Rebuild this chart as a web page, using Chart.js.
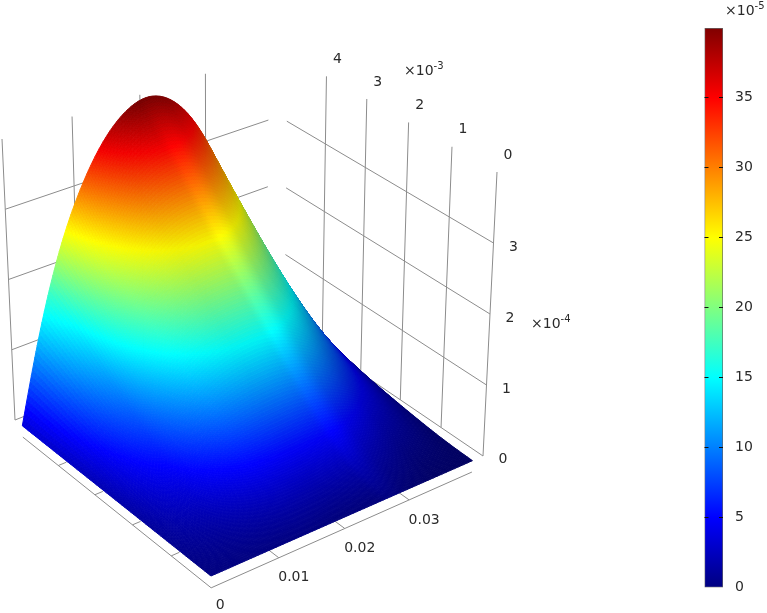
<!DOCTYPE html>
<html><head><meta charset="utf-8">
<style>html,body{margin:0;padding:0;background:#fff;overflow:hidden}
#wrap{position:relative;width:767px;height:613px}
canvas{position:absolute;top:0;filter:blur(0.45px)}</style>
<script src="https://cdn.jsdelivr.net/npm/chart.js@4"></script>
</head><body><div id="wrap"><canvas id="view" style="left:0"></canvas><canvas id="bar" style="left:690px"></canvas></div>
<script>
const xValues=[0,0.00333,0.00667,0.01,0.01333,0.01667,0.02,0.02333,0.02667,0.03,0.03333,0.03667,0.04];
const yValues=[0,0.000625,0.00125,0.001875,0.0025,0.003125,0.00375,0.004375,0.005];
// surface height, units of 1e-5, one row per y value
const zRow0=[0,0,0,0,0,0,0,0,0,0,0,0,0];
const zRow1=[0,0.7,1.2,1.6,1.8,1.9,2,1.9,1.8,1.5,1,0.7,0.1];
const zRow2=[0,2,3.5,4.7,5.4,5.8,6,5.8,5.3,4.4,3.1,1.9,0.5];
const zRow3=[0,3.7,6.6,8.7,10.1,10.9,11.2,10.8,9.9,8.2,5.8,3.4,1];
const zRow4=[0,5.5,9.9,13,15.1,16.3,16.8,16.3,14.8,12.3,8.7,4.9,1.6];
const zRow5=[0,7.3,13.2,17.4,20.2,21.8,22.4,21.7,19.7,16.4,11.6,6.5,2.4];
const zRow6=[0,9.3,16.8,22,25.6,27.6,28.4,27.5,25,20.7,14.7,8.1,3.4];
const zRow7=[0,11.3,20.3,26.7,31.2,33.8,34.7,33.6,30.5,25.1,17.8,9.7,4.6];
const zRow8=[0,13.1,23.6,31,36.4,39.6,40.8,39.4,35.6,29.2,20.7,11.2,6];
const zRows=[zRow0,zRow1,zRow2,zRow3,zRow4,zRow5,zRow6,zRow7,zRow8];
// lighting against distance from the crease that runs across the surface
const shadeD=[-1,-0.3,-0.15,-0.03,0,0.03,0.08,0.2,0.35,1];
const shadeF=[1,1,0.95,0.95,1,0.98,0.88,0.78,0.75,0.76];
const xTicks=[0,0.01,0.02,0.03];
const xTickLabels=['0','0.01','0.02','0.03'];
const yTicks=[0,0.001,0.002,0.003,0.004];
const yTickLabels=['0','1','2','3','4'];
const zTicks=[0,1e-4,2e-4,3e-4];
const zTickLabels=['0','1','2','3'];
const barTicks=[0,5,10,15,20,25,30,35];
const barMax=39.95;

// camera
const xBox=0.0417,yBox=0.00521,zBox=4e-4,zAxis=-1.6e-5,xEnd=0.04,yEnd=0.005;
const base=[[211,576],[483,456],[277,316],[15,420]];
const top_=[[207,280],[497,172],[279.5,50],[2,139]];
function homog(q){
  const [p0,p1,p2,p3]=q;
  const dx1=p1[0]-p2[0],dx2=p3[0]-p2[0],sx=p0[0]-p1[0]+p2[0]-p3[0];
  const dy1=p1[1]-p2[1],dy2=p3[1]-p2[1],sy=p0[1]-p1[1]+p2[1]-p3[1];
  const det=dx1*dy2-dx2*dy1;
  const g=(sx*dy2-dx2*sy)/det,h=(dx1*sy-sx*dy1)/det;
  const a=p1[0]-p0[0]+g*p1[0],b=p3[0]-p0[0]+h*p3[0],d=p1[1]-p0[1]+g*p1[1],e=p3[1]-p0[1]+h*p3[1];
  return (u,v)=>{const W=g*u+h*v+1;return [(a*u+b*v+p0[0])/W,(d*u+e*v+p0[1])/W];};
}
const Hb=homog(base),Ht=homog(top_);
function project(x,y,z){
  const u=x/xBox,v=y/yBox,w=z/zBox,b=Hb(u,v),t=Ht(u,v);
  return {x:b[0]+(t[0]-b[0])*w,y:b[1]+(t[1]-b[1])*w};
}
// uniform cubic B-spline tessellation of the table for drawing
function bs(p0,p1,p2,p3,t){const m=1-t;return (m*m*m*p0+(3*t*t*t-6*t*t+4)*p1+(-3*t*t*t+3*t*t+3*t+1)*p2+t*t*t*p3)/6;}
function at(a,k){const n=a.length-1;if(k<0)return 2*a[0]-a[-k];if(k>n)return 2*a[n]-a[2*n-k];return a[k];}
function sampleRow(row,s){const n=row.length-1,i=Math.min(Math.floor(s),n-1),t=s-i;return bs(at(row,i-1),at(row,i),at(row,i+1),at(row,i+2),t);}
function sampleZ(si,sj){
  const m=zRows.length-1,j=Math.min(Math.floor(sj),m-1),t=sj-j;
  const col=zRows.map(r=>sampleRow(r,si));
  return Math.max(0,bs(at(col,j-1),at(col,j),at(col,j+1),at(col,j+2),t));
}
function lerpTable(xs,ys,v){
  for(let i=1;i<xs.length;i++) if(v<=xs[i]){const t=(v-xs[i-1])/(xs[i]-xs[i-1]);return ys[i-1]+(ys[i]-ys[i-1])*t;}
  return ys[ys.length-1];
}
const clamp=v=>Math.max(0,Math.min(1,v));
function jet(t){return [clamp(1.5-Math.abs(4*t-3)),clamp(1.5-Math.abs(4*t-2)),clamp(1.5-Math.abs(4*t-1))];}
function css(c){return 'rgb('+c.map(v=>Math.round(255*clamp(v))).join(',')+')';}

const SUB=16,nu=(xValues.length-1)*SUB,nv=(yValues.length-1)*SUB;
const meshPts=[],meshVal=[],meshF=[];
for(let j=0;j<=nv;j++)for(let i=0;i<=nu;i++){
  const u=i/nu,v=j/nv,z=sampleZ(i/SUB,j/SUB);
  const tint=3.5*v*Math.max(0,1-u/0.12);
  meshPts.push(project(u*xEnd,v*yEnd,z*1e-5));
  meshVal.push(z+tint);
  meshF.push(lerpTable(shadeD,shadeF,u-(0.66-0.17*v)));
}
const lineStyle={showLine:true,pointRadius:0,borderColor:'#8c8c8c',borderWidth:1,fill:false,clip:false};
function seg(a,b){return Object.assign({data:[a,b]},lineStyle);}
const ds=[];
ds.push({data:meshPts,showLine:false,pointRadius:0,pointHitRadius:0});
// walls
zTicks.forEach(z=>{ds.push(seg(project(0,yBox,z),project(xEnd,yBox,z)));ds.push(seg(project(xBox,0,z),project(xBox,yEnd,z)));});
xTicks.forEach(x=>ds.push(seg(project(x,yBox,0),project(x,yBox,zBox))));
yTicks.forEach(y=>ds.push(seg(project(xBox,y,0),project(xBox,y,zBox))));
// front axis lines + ticks
ds.push(seg(project(0,yEnd,zAxis),project(0,0,zAxis)));
ds.push(seg(project(0,0,zAxis),project(xEnd,0,zAxis)));
xTicks.slice(1).forEach(x=>ds.push(seg(project(x,0,zAxis),project(x,0.00025,zAxis))));
yTicks.slice(1).forEach(y=>ds.push(seg(project(0,y,zAxis),project(0.0012,y,zAxis))));

const FONT='14px "DejaVu Sans"',SUP='10px "DejaVu Sans"',INK='#2a2a2a';
function expo(ctx,cx,cy,p){ctx.textAlign='left';ctx.textBaseline='middle';ctx.font=FONT;ctx.fillStyle=INK;ctx.fillText('×10',cx,cy);
  const w=ctx.measureText('×10').width;ctx.font=SUP;ctx.fillText(p,cx+w,cy-5);}
const surface={id:'surface',afterDatasetsDraw(chart){
  const ctx=chart.ctx,pts=chart.getDatasetMeta(0).data,w=nu+1;
  ctx.save();ctx.lineWidth=1;ctx.lineJoin='round';
  for(let j=nv-1;j>=0;j--)for(let i=nu-1;i>=0;i--){
    const a=pts[j*w+i],b=pts[j*w+i+1],c=pts[(j+1)*w+i+1],d=pts[(j+1)*w+i];
    const k=j*w+i,val=(meshVal[k]+meshVal[k+1]+meshVal[k+w]+meshVal[k+w+1])/4;
    const f=(meshF[k]+meshF[k+1]+meshF[k+w]+meshF[k+w+1])/4;
    const col=css(jet(val/barMax).map(q=>q*f));
    ctx.fillStyle=col;ctx.strokeStyle=col;
    ctx.beginPath();ctx.moveTo(a.x,a.y);ctx.lineTo(b.x,b.y);ctx.lineTo(c.x,c.y);ctx.lineTo(d.x,d.y);ctx.closePath();ctx.fill();ctx.stroke();
  }
  // labels
  const sx=chart.scales.x,sy=chart.scales.y;
  const put=(t,p,dx,dy)=>{ctx.fillText(t,sx.getPixelForValue(p.x)+dx,sy.getPixelForValue(p.y)+dy);};
  ctx.font=FONT;ctx.fillStyle=INK;ctx.textAlign='center';ctx.textBaseline='middle';
  xTicks.forEach((x,i)=>put(xTickLabels[i],project(x,0,zAxis),i?15:9,i?20:18));
  yTicks.forEach((y,i)=>put(yTickLabels[i],project(xBox,y,zBox),11,-17));
  zTicks.forEach((z,i)=>put(zTickLabels[i],project(xBox,0,z),20,i?4:3));
  expo(ctx,404,71,'-3');
  expo(ctx,531,324,'-4');
  ctx.restore();
}};
const view=document.getElementById('view');view.width=767;view.height=613;
new Chart(view,{type:'scatter',data:{datasets:ds},plugins:[surface],options:{responsive:false,animation:false,events:[],
  layout:{padding:0},plugins:{legend:{display:false},tooltip:{enabled:false}},
  scales:{x:{type:'linear',min:0,max:767,display:false},y:{type:'linear',min:0,max:613,reverse:true,display:false}}}});

const barEl=document.getElementById('bar');barEl.width=77;barEl.height=613;
function barFill(c){
  const a=c.chart.chartArea;if(!a)return '#000';
  const g=c.chart.ctx.createLinearGradient(0,a.bottom,0,a.top);
  for(let i=0;i<=8;i++)g.addColorStop(i/8,css(jet(i/8)));
  return g;
}
const barMarks={id:'barMarks',afterDatasetsDraw(chart){
  const ctx=chart.ctx,a=chart.chartArea,s=chart.scales.y;
  ctx.save();ctx.strokeStyle='#111';ctx.lineWidth=1;
  barTicks.slice(1).forEach(t=>{const y=Math.round(s.getPixelForValue(t))+0.5;
    ctx.beginPath();ctx.moveTo(a.left,y);ctx.lineTo(a.left+4,y);ctx.moveTo(a.right-4,y);ctx.lineTo(a.right,y);ctx.stroke();});
  expo(ctx,35,11,'-5');
  ctx.restore();
}};
new Chart(barEl,{type:'bar',data:{labels:['v'],datasets:[{data:[[0,barMax]],backgroundColor:barFill,borderColor:'#666',borderWidth:1,borderSkipped:false,barPercentage:1,categoryPercentage:1}]},
  plugins:[barMarks],options:{responsive:false,animation:false,events:[],layout:{padding:{left:14.5,top:28,bottom:25.5,right:0}},
  plugins:{legend:{display:false},tooltip:{enabled:false}},
  scales:{x:{display:false},y:{position:'right',min:0,max:barMax,afterFit(s){s.width=44;},grid:{display:false,drawTicks:false},border:{display:false},
    afterBuildTicks(s){s.ticks=barTicks.map(v=>({value:v}));},
    ticks:{padding:12,color:INK,font:{family:'DejaVu Sans',size:14},callback:v=>String(v)}}}}});
</script></body></html>
